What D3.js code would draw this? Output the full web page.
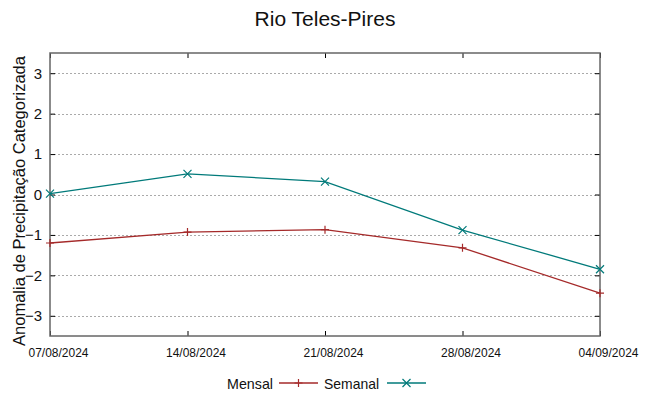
<!DOCTYPE html>
<html>
<head>
<meta charset="utf-8">
<script src="https://cdn.jsdelivr.net/npm/d3@7"></script>
<style>
  body { margin: 0; background: #fff; }
  text { font-family: "Liberation Sans", Arial, sans-serif; fill: #111; }
</style>
</head>
<body>
<div id="chart"></div>
<script>
// chart data
const dates = ["07/08/2024", "14/08/2024", "21/08/2024", "28/08/2024", "04/09/2024"];
const mensal = [-1.2, -0.93, -0.87, -1.32, -2.44];
const semanal = [0.02, 0.51, 0.32, -0.88, -1.85];
const yTicks = [-3, -2, -1, 0, 1, 2, 3];

const width = 649, height = 396;
const margin = { left: 50, right: 49, top: 53, bottom: 60 };

const svg = d3.select("#chart").append("svg")
    .attr("width", width)
    .attr("height", height);

// keep text at a fixed width like the reference
function squeeze(sel, w) {
    sel.attr("textLength", w).attr("lengthAdjust", "spacingAndGlyphs");
}

const x = d3.scalePoint()
    .domain(dates)
    .range([margin.left, width - margin.right]);

const y = d3.scaleLinear()
    .domain([-3.5, 3.5])
    .range([height - margin.bottom, margin.top]);

// grid
svg.append("g")
    .selectAll("line")
    .data(yTicks)
    .join("line")
    .attr("x1", margin.left)
    .attr("x2", width - margin.right)
    .attr("y1", d => Math.round(y(d)) + 0.5)
    .attr("y2", d => Math.round(y(d)) + 0.5)
    .attr("stroke", "#aaa")
    .attr("stroke-width", 1)
    .attr("stroke-dasharray", "2,2");

// left axis
const yAxis = svg.append("g")
    .attr("transform", `translate(${margin.left},0)`)
    .call(d3.axisLeft(y).tickValues(yTicks).tickFormat(d3.format("d")).tickSize(-5).tickPadding(8));
yAxis.select(".domain").remove();
yAxis.selectAll("text").style("font-size", "15px").attr("fill", "#111");
yAxis.selectAll("line").attr("stroke", "#000");

// right ticks (mirror)
const yRight = svg.append("g")
    .attr("transform", `translate(${width - margin.right},0)`)
    .call(d3.axisRight(y).tickValues(yTicks).tickSize(-5).tickFormat(""));
yRight.select(".domain").remove();
yRight.selectAll("line").attr("stroke", "#000");

// bottom axis (labels sit a little right of the ticks, as in the reference)
const xAxis = svg.append("g")
    .attr("transform", `translate(0,${height - margin.bottom})`)
    .call(d3.axisBottom(x).tickSize(-5).tickPadding(12));
xAxis.select(".domain").remove();
xAxis.selectAll("line").attr("stroke", "#000");
xAxis.selectAll("text")
    .attr("dx", 8)
    .style("font-size", "13px")
    .attr("fill", "#111")
    .call(squeeze, 60);

// top ticks (mirror)
const xTop = svg.append("g")
    .attr("transform", `translate(0,${margin.top})`)
    .call(d3.axisTop(x).tickSize(-5).tickFormat(""));
xTop.select(".domain").remove();
xTop.selectAll("line").attr("stroke", "#000");

// frame
svg.append("rect")
    .attr("x", margin.left)
    .attr("y", margin.top)
    .attr("width", width - margin.left - margin.right)
    .attr("height", height - margin.top - margin.bottom)
    .attr("fill", "none")
    .attr("stroke", "#666")
    .attr("stroke-width", 1.5);

// series
const series = [
    { name: "Mensal", values: mensal, color: "#a52a2a", marker: "plus" },
    { name: "Semanal", values: semanal, color: "#007a7a", marker: "cross" }
];

const line = d3.line()
    .x((d, i) => x(dates[i]))
    .y(d => y(d));

function drawMarker(g, type, cx, cy, color) {
    const s = 4;
    if (type === "plus") {
        g.append("path")
            .attr("d", `M${cx - s},${cy}H${cx + s}M${cx},${cy - s}V${cy + s}`)
            .attr("stroke", color).attr("stroke-width", 1.2);
    } else {
        g.append("path")
            .attr("d", `M${cx - s},${cy - s}L${cx + s},${cy + s}M${cx - s},${cy + s}L${cx + s},${cy - s}`)
            .attr("stroke", color).attr("stroke-width", 1.2);
    }
}

series.forEach(s => {
    const g = svg.append("g");
    g.append("path")
        .datum(s.values)
        .attr("d", line)
        .attr("fill", "none")
        .attr("stroke", s.color)
        .attr("stroke-width", 1.3);
    s.values.forEach((v, i) => drawMarker(g, s.marker, x(dates[i]), y(v), s.color));
});

// title
svg.append("text")
    .attr("x", (margin.left + width - margin.right) / 2)
    .attr("y", 26)
    .attr("text-anchor", "middle")
    .style("font-size", "21px")
    .text("Rio Teles-Pires");

// y label
svg.append("text")
    .attr("transform", "translate(25,201) rotate(-90)")
    .attr("text-anchor", "middle")
    .style("font-size", "16.5px")
    .text("Anomalia de Precipitação Categorizada");

// legend
const legend = svg.append("g").attr("transform", "translate(0,383)");
const legendItems = [
    { name: "Mensal", textLeft: 227, w: 46, x1: 279, x2: 318, color: "#a52a2a", marker: "plus" },
    { name: "Semanal", textLeft: 324, w: 55, x1: 387, x2: 426, color: "#007a7a", marker: "cross" }
];
legendItems.forEach(it => {
    legend.append("text")
        .attr("x", it.textLeft)
        .attr("y", 5.5)
        .style("font-size", "15px")
        .text(it.name)
        .call(squeeze, it.w);
    legend.append("line")
        .attr("x1", it.x1).attr("x2", it.x2)
        .attr("y1", 0).attr("y2", 0)
        .attr("stroke", it.color).attr("stroke-width", 1.3);
    drawMarker(legend, it.marker, (it.x1 + it.x2) / 2, 0, it.color);
});
</script>
</body>
</html>
